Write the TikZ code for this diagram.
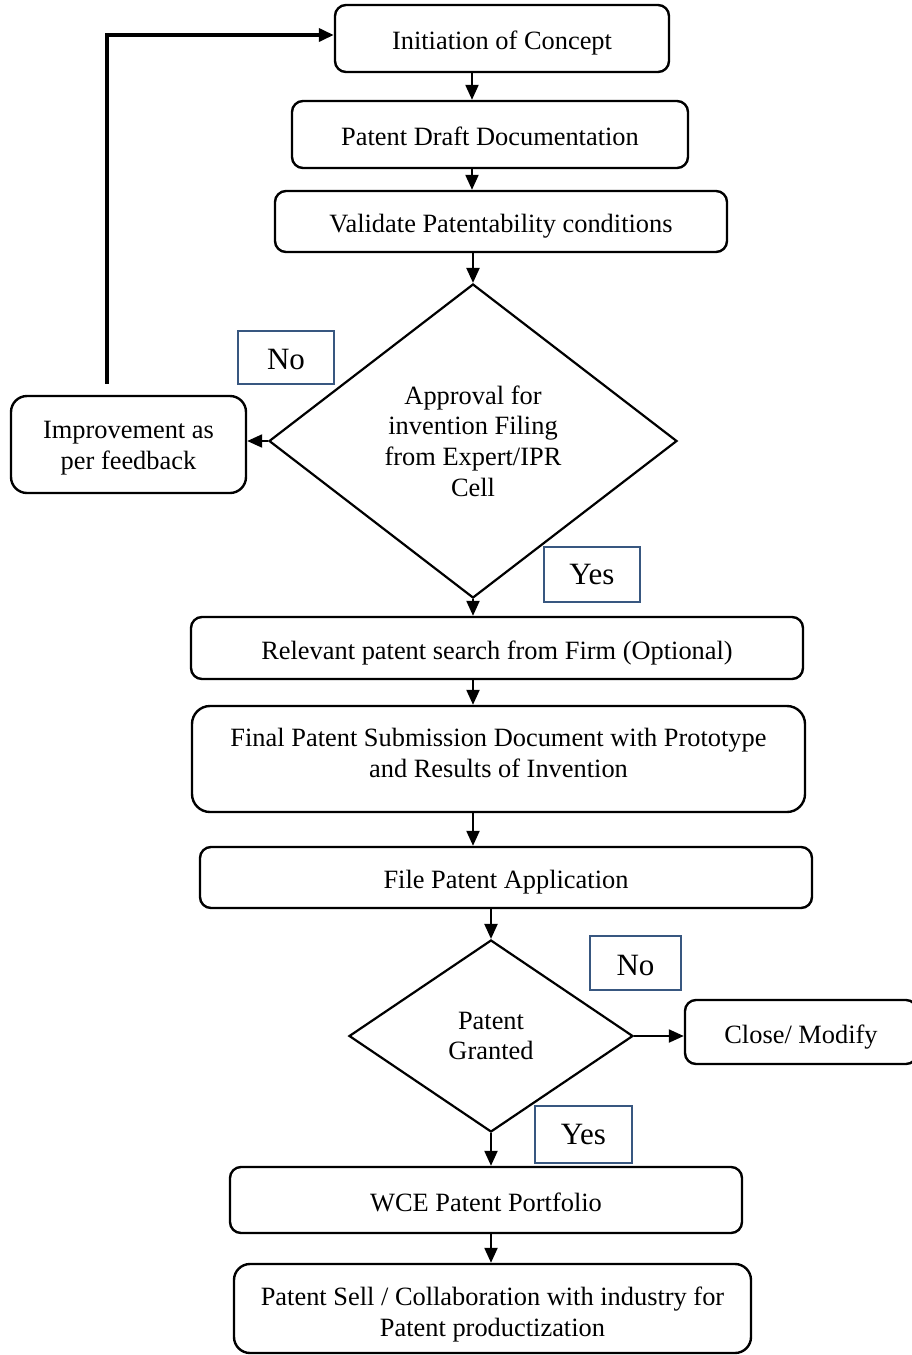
\documentclass[tikz,border=0pt]{standalone}
\usepackage{fontspec}
\setmainfont{Liberation Serif}
\usetikzlibrary{shapes.geometric,arrows.meta}
\definecolor{lblblue}{RGB}{56,87,128}
\begin{document}
\begin{tikzpicture}[x=1pt,y=-1pt,
  txt/.style={font=\fontsize{26.4pt}{30.6pt}\selectfont, align=center},
  boxshape/.style={draw, line width=2.4pt, rounded corners=11pt, rectangle, inner sep=0pt},
  proc/.style={txt, boxshape, text height=28pt, text depth=6pt},
  dec/.style={txt, draw, line width=2.2pt, diamond, inner sep=0pt},
  lbl/.style={draw=lblblue, line width=1.7pt, rectangle, font=\fontsize{31pt}{36pt}\selectfont, inner sep=0pt},
  arr/.style={line width=2.2pt, -{Triangle[length=15pt,width=13pt]}}
]
\useasboundingbox (0,0) rectangle (911,1355);

% process boxes
\node[proc, minimum width=334pt, minimum height=67pt] (b1) at (502,38.5) {Initiation of Concept};
\node[proc, minimum width=396pt, minimum height=67pt] (b2) at (490,134.5) {Patent Draft Documentation};
\node[proc, minimum width=452pt, minimum height=61pt] (b3) at (501,221.5) {Validate Patentability conditions};
\node[dec, minimum width=408pt, minimum height=314pt, aspect=1.3] (d1) at (473,441) {Approval for\\invention Filing\\from Expert/IPR\\Cell};
\node[boxshape, rounded corners=16pt, minimum width=235pt, minimum height=97pt] (imp) at (128.5,444.5) {};
\node[txt] (impt) at (128.5,448) {Improvement as\\per feedback};
\node[proc, minimum width=612pt, minimum height=62pt] (b4) at (497,648) {Relevant patent search from Firm (Optional)};
\node[boxshape, rounded corners=18pt, minimum width=613pt, minimum height=106pt] (b5) at (498.5,759) {};
\node[txt] (b5t) at (498.5,753) {Final Patent Submission Document with Prototype\\and Results of Invention};
\node[proc, minimum width=612pt, minimum height=61pt] (b6) at (506,877.5) {File Patent Application};
\node[dec, minimum width=284pt, minimum height=192pt, aspect=1.48] (d2) at (491,1036) {Patent\\Granted};
\node[proc, minimum width=232pt, minimum height=64pt] (close) at (801,1032) {Close/ Modify};
\node[proc, minimum width=512pt, minimum height=66pt] (wce) at (486,1200) {WCE Patent Portfolio};
\node[boxshape, rounded corners=16pt, minimum width=517pt, minimum height=89pt] (fin) at (492.5,1308.5) {};
\node[txt] (fint) at (492.5,1314.5) {Patent Sell / Collaboration with industry for\\Patent productization};

% labels
\node[lbl, minimum width=96pt, minimum height=53pt, text height=24pt, text depth=0pt] (no1) at (286,357.5) {No};
\node[lbl, minimum width=96pt, minimum height=55pt] (yes1) at (592,574.5) {Yes};
\node[lbl, minimum width=91pt, minimum height=54pt, text height=24pt, text depth=0pt] (no2) at (635.5,963) {No};
\node[lbl, minimum width=97pt, minimum height=57pt] (yes2) at (583.5,1134.5) {Yes};

% connectors
\coordinate (ax) at (472,0);
\draw[arr] (b1.south -| ax) -- (b2.north -| ax);
\draw[arr] (b2.south -| ax) -- (b3.north -| ax);
\draw[arr] (b3.south -| d1.north) -- (d1.north);
\draw[arr] (d1.west) -- (imp.east |- d1.west);
\draw[arr] (d1.south) -- (b4.north -| d1.south);
\draw[arr] (b4.south -| d1.south) -- (b5.north -| d1.south);
\draw[arr] (b5.south -| d1.south) -- (b6.north -| d1.south);
\draw[arr] (b6.south -| d2.north) -- (d2.north);
\draw[arr] (d2.east) -- (close.west |- d2.east);
\draw[arr] (d2.south) -- (wce.north -| d2.south);
\draw[arr] (wce.south -| d2.south) -- (fin.north -| d2.south);
\coordinate (fb) at (107,35);
\draw[arr, line width=3.6pt, shorten <=11pt] (imp.north -| fb) -- (fb) -- (b1.west |- fb);
\end{tikzpicture}
\end{document}
